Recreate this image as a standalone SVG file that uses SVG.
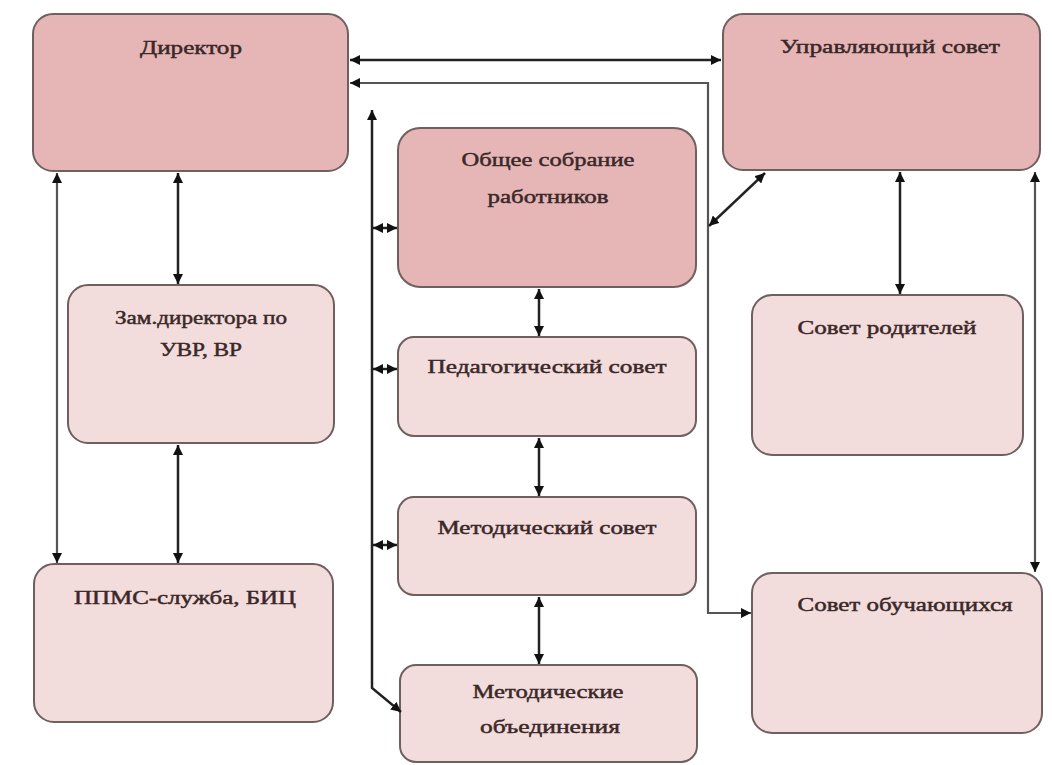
<svg xmlns="http://www.w3.org/2000/svg" width="1052" height="765" viewBox="0 0 1052 765">
<style>
.box{stroke:#6f5f5f;stroke-width:2}
.dark{fill:#e6b6b6}
.light{fill:#f3dcdc}
.t{font-family:"Liberation Serif","Times New Roman",serif;font-size:18px;fill:#3a2828;stroke:#3a2828;stroke-width:0.45;text-anchor:middle}
.c{fill:none;stroke:#222;stroke-width:2.5}
.g{fill:none;stroke:#555;stroke-width:2.2}
</style>
<defs>
<marker id="a" viewBox="0 0 10 10" markerUnits="userSpaceOnUse" markerWidth="10" markerHeight="10" refX="10" refY="5" orient="auto-start-reverse">
<path d="M0,0 L10,5 L0,10 z" fill="#111"/>
</marker>
</defs>
<rect width="1052" height="765" fill="#ffffff"/>

<g id="director">
<rect class="box dark" x="33" y="14" width="315" height="157" rx="20"/>
<text class="t" x="191" y="54" textLength="102" lengthAdjust="spacingAndGlyphs">Директор</text>
</g>
<g id="upravl">
<rect class="box dark" x="723" y="14" width="317" height="156" rx="20"/>
<text class="t" x="890" y="53" textLength="220" lengthAdjust="spacingAndGlyphs">Управляющий совет</text>
</g>
<g id="obshee">
<rect class="box dark" x="398" y="128" width="298" height="159" rx="22"/>
<text class="t" x="548" y="166" textLength="173" lengthAdjust="spacingAndGlyphs">Общее собрание</text>
<text class="t" x="548" y="203" textLength="121" lengthAdjust="spacingAndGlyphs">работников</text>
</g>
<g id="zam">
<rect class="box light" x="68" y="285" width="266" height="158" rx="20"/>
<text class="t" x="201" y="324" textLength="172" lengthAdjust="spacingAndGlyphs">Зам.директора по</text>
<text class="t" x="201" y="356" textLength="82" lengthAdjust="spacingAndGlyphs">УВР, ВР</text>
</g>
<g id="ppms">
<rect class="box light" x="34" y="564" width="299" height="158" rx="20"/>
<text class="t" x="185" y="604" textLength="222" lengthAdjust="spacingAndGlyphs">ППМС-служба, БИЦ</text>
</g>
<g id="ped">
<rect class="box light" x="398" y="337" width="298" height="99" rx="16"/>
<text class="t" x="547" y="373" textLength="239" lengthAdjust="spacingAndGlyphs">Педагогический совет</text>
</g>
<g id="met">
<rect class="box light" x="398" y="497" width="298" height="98" rx="16"/>
<text class="t" x="547" y="534" textLength="219" lengthAdjust="spacingAndGlyphs">Методический совет</text>
</g>
<g id="mo">
<rect class="box light" x="400" y="665" width="297" height="97" rx="16"/>
<text class="t" x="548" y="698" textLength="151" lengthAdjust="spacingAndGlyphs">Методические</text>
<text class="t" x="550" y="733" textLength="140" lengthAdjust="spacingAndGlyphs">объединения</text>
</g>
<g id="roditeli">
<rect class="box light" x="752" y="295" width="271" height="160" rx="20"/>
<text class="t" x="887" y="334" textLength="179" lengthAdjust="spacingAndGlyphs">Совет родителей</text>
</g>
<g id="obuch">
<rect class="box light" x="752" y="573" width="290" height="160" rx="20"/>
<text class="t" x="905" y="611" textLength="215" lengthAdjust="spacingAndGlyphs">Совет обучающихся</text>
</g>

<g id="connectors">
<path class="c" d="M350,60 H721" marker-start="url(#a)" marker-end="url(#a)"/>
<path class="g" d="M350,83 H708 V613 H751" marker-start="url(#a)" marker-end="url(#a)"/>
<path class="c" d="M709,226 L765,173" marker-start="url(#a)" marker-end="url(#a)"/>
<path class="c" d="M372,110 V688 L401,712" marker-start="url(#a)" marker-end="url(#a)"/>
<path class="c" d="M373,228 H397" marker-start="url(#a)" marker-end="url(#a)"/>
<path class="c" d="M373,369 H397" marker-start="url(#a)" marker-end="url(#a)"/>
<path class="c" d="M373,545 H397" marker-start="url(#a)" marker-end="url(#a)"/>
<path class="g" d="M57,173 V563" marker-start="url(#a)" marker-end="url(#a)"/>
<path class="c" d="M178,173 V284" marker-start="url(#a)" marker-end="url(#a)"/>
<path class="c" d="M178,445 V563" marker-start="url(#a)" marker-end="url(#a)"/>
<path class="c" d="M539,289 V336" marker-start="url(#a)" marker-end="url(#a)"/>
<path class="c" d="M539,438 V496" marker-start="url(#a)" marker-end="url(#a)"/>
<path class="c" d="M539,597 V664" marker-start="url(#a)" marker-end="url(#a)"/>
<path class="c" d="M900,172 V294" marker-start="url(#a)" marker-end="url(#a)"/>
<path class="g" d="M1035,172 V572" marker-start="url(#a)" marker-end="url(#a)"/>
</g>
</svg>
